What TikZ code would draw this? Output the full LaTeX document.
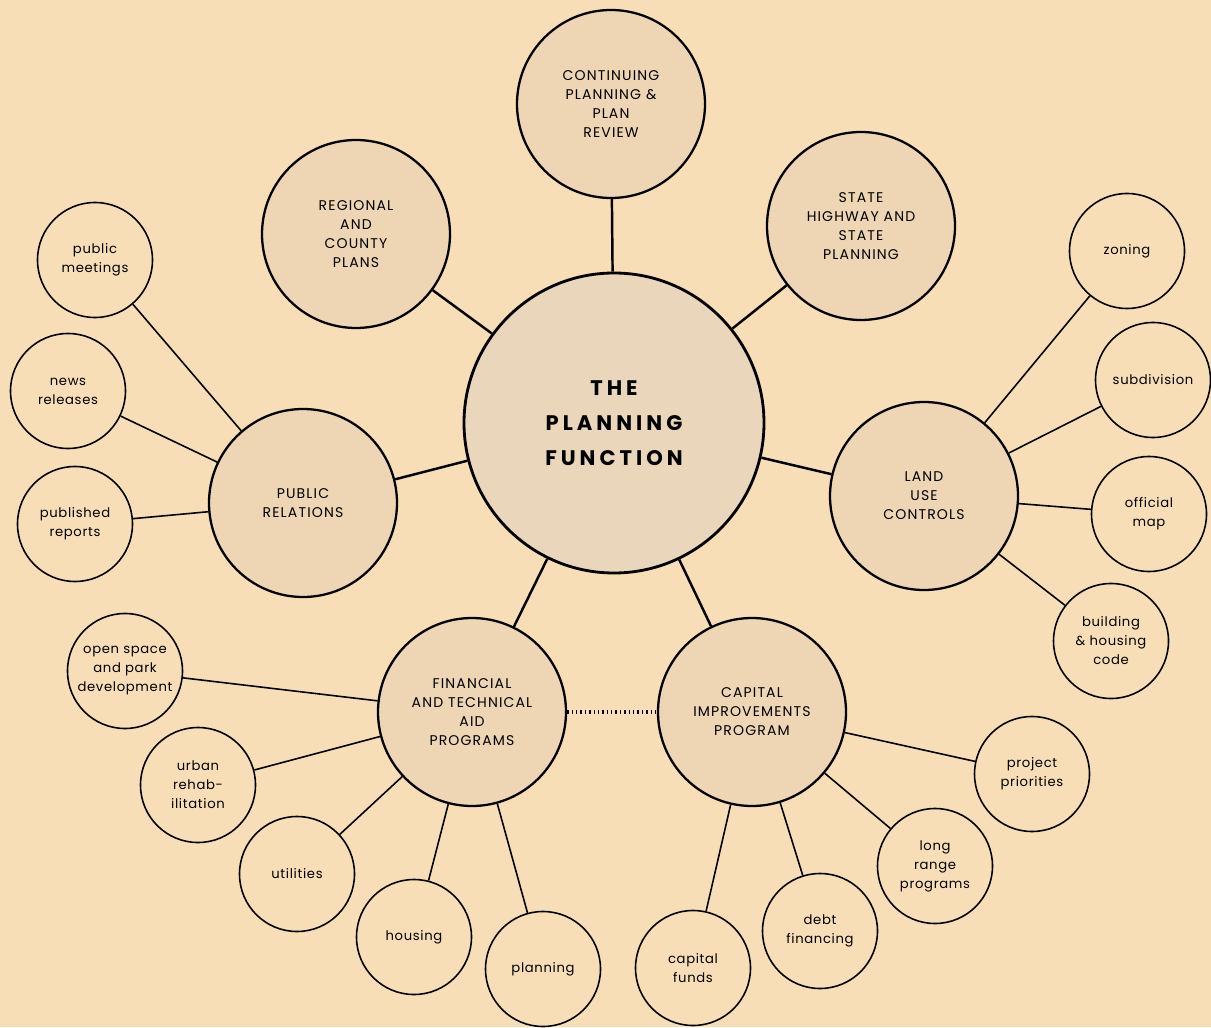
\documentclass[tikz,border=0pt]{standalone}
\usepackage{fontspec}
\setmainfont{Poppins}
\definecolor{paper}{RGB}{247,222,182}
\definecolor{shade}{RGB}{238,214,180}
\definecolor{centershade}{RGB}{234,214,186}
\begin{document}
\begin{tikzpicture}
[
MainCircle/.style={circle, draw=black, fill=centershade, line width=1.6pt, minimum size=6.0cm, inner sep=0pt, align=center, font=\fontsize{12}{20}\selectfont\bfseries\addfontfeature{LetterSpace=19}},
TopicCircle/.style={circle, draw=black, fill=shade, line width=1.3pt, minimum size=3.76cm, inner sep=0pt, align=center, font=\fontsize{8}{10.8}\selectfont\addfontfeature{LetterSpace=8}},
ItemCircle/.style={circle, draw=black, line width=0.9pt, minimum size=2.3cm, inner sep=0pt, align=center, font=\fontsize{7.5}{10.8}\selectfont\addfontfeature{LetterSpace=5}},
Thickline/.style={draw=black, line width=1.4pt},
Thinline/.style={draw=black, line width=0.9pt},
DotLine/.style={draw=black, line width=1.8pt, dash pattern=on 0.8pt off 1.7pt},
]

\fill[paper] (0,0) rectangle (24.22,20.54);
\useasboundingbox (0,0) rectangle (24.22,20.54);

% centre
\node[MainCircle] (planfn) at (12.28,12.08) {THE\\PLANNING\\FUNCTION};

% topics
\node[TopicCircle] (contin) at (12.22,18.46) {CONTINUING\\PLANNING \&\\PLAN\\REVIEW};
\node[TopicCircle] (region) at ( 7.12,15.86) {REGIONAL\\AND\\COUNTY\\PLANS};
\node[TopicCircle] (state)  at (17.22,16.02) {STATE\\HIGHWAY AND\\STATE\\PLANNING};
\node[TopicCircle] (pubrel) at ( 6.06,10.48) {PUBLIC\\RELATIONS};
\node[TopicCircle] (landuse) at (18.48,10.62) {LAND\\USE\\CONTROLS};
\node[TopicCircle] (finaid) at ( 9.44, 6.30) {FINANCIAL\\AND TECHNICAL\\AID\\PROGRAMS};
\node[TopicCircle] (capimp) at (15.04, 6.30) {CAPITAL\\IMPROVEMENTS\\PROGRAM};

% public relations items
\node[ItemCircle] (meet)   at (1.90,15.34) {public\\meetings};
\node[ItemCircle] (news)   at (1.36,12.72) {news\\releases};
\node[ItemCircle] (report) at (1.50,10.06) {published\\reports};

% land use items
\node[ItemCircle] (zoning) at (22.54,15.52) {zoning};
\node[ItemCircle] (subdiv) at (23.06,12.94) {subdivision};
\node[ItemCircle] (offmap) at (22.98,10.26) {official\\map};
\node[ItemCircle] (bldg)   at (22.22, 7.72) {building\\\& housing\\code};

% aid program items
\node[ItemCircle] (openspace) at ( 2.50,7.12) {open space\\and park\\development};
\node[ItemCircle] (urban)     at ( 3.96,4.84) {urban\\rehab-\\ilitation};
\node[ItemCircle] (util)      at ( 5.94,3.06) {utilities};
\node[ItemCircle] (housing)   at ( 8.28,1.80) {housing};
\node[ItemCircle] (planning)  at (10.86,1.16) {planning};

% capital items
\node[ItemCircle] (funds)    at (13.86,1.18) {capital\\funds};
\node[ItemCircle] (debt)     at (16.40,1.92) {debt\\financing};
\node[ItemCircle] (longrange) at (18.70,3.22) {long\\range\\programs};
\node[ItemCircle] (priority) at (20.64,5.06) {project\\priorities};

% connectors
\foreach \t in {contin,region,state,pubrel,landuse,finaid,capimp}
  \draw[Thickline] (planfn) -- (\t);
\foreach \i in {meet,news,report}
  \draw[Thinline] (pubrel) -- (\i);
\foreach \i in {zoning,subdiv,offmap,bldg}
  \draw[Thinline] (landuse) -- (\i);
\foreach \i in {openspace,urban,util,housing,planning}
  \draw[Thinline] (finaid) -- (\i);
\foreach \i in {funds,debt,longrange,priority}
  \draw[Thinline] (capimp) -- (\i);

\draw[DotLine] (finaid) -- (capimp);

\end{tikzpicture}
\end{document}
